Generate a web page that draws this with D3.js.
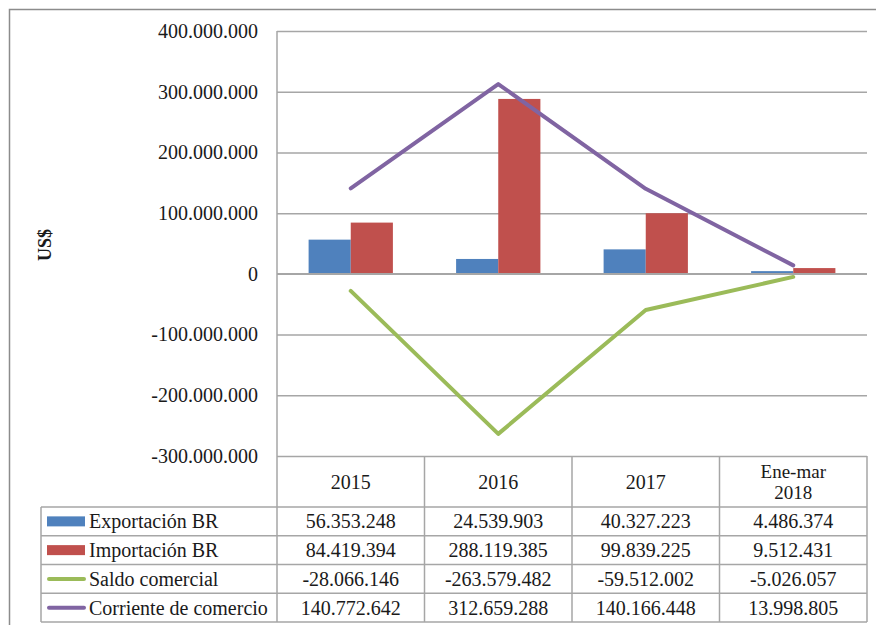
<!DOCTYPE html>
<html>
<head>
<meta charset="utf-8">
<script src="https://cdn.jsdelivr.net/npm/d3@7"></script>
<style>
  body { margin: 0; background: #fff; }
  svg { display: block; font-family: "Liberation Serif", "Times New Roman", serif; }
</style>
</head>
<body>
<svg id="chart"></svg>
<script>
// Chart data
const categories = ['2015', '2016', '2017', 'Ene-mar 2018'];
const headerLines = [['2015'], ['2016'], ['2017'], ['Ene-mar', '2018']];
const exportacion = [56353248, 24539903, 40327223, 4486374];
const importacion = [84419394, 288119385, 99839225, 9512431];
const saldo = [-28066146, -263579482, -59512002, -5026057];
const corriente = [140772642, 312659288, 140166448, 13998805];
const yTicks = [-300000000, -200000000, -100000000, 0, 100000000, 200000000, 300000000, 400000000];

const series = [
  { name: 'Exportación BR', values: exportacion, color: '#4f81bd', type: 'bar' },
  { name: 'Importación BR', values: importacion, color: '#c0504d', type: 'bar' },
  { name: 'Saldo comercial', values: saldo, color: '#9bbb59', type: 'line' },
  { name: 'Corriente de comercio', values: corriente, color: '#8064a2', type: 'line' }
];

const W = 876, H = 625;
const plot = { left: 277, right: 867, top: 31, bottom: 456 };
const table = { left: 41, headerBottom: 507, rowH: 28.75 };
const gridColor = '#a6a6a6';
const textColor = '#1a1a1a';

// number format with dots as thousands separator
const fmt = v => d3.format(',')(v).replace(/,/g, '.').replace('−', '-');

const svg = d3.select('#chart')
  .attr('width', W)
  .attr('height', H);

// outer frame
svg.append('rect')
  .attr('x', 9.5)
  .attr('y', 9.5)
  .attr('width', W + 10)
  .attr('height', H + 10)
  .attr('fill', 'none')
  .attr('stroke', '#8c8c8c')
  .attr('stroke-width', 1.5);

// scales
const xScale = d3.scaleBand()
  .domain(categories)
  .range([plot.left, plot.right])
  .padding(0);

const yScale = d3.scaleLinear()
  .domain([-300000000, 400000000])
  .range([plot.bottom, plot.top]);

const barW = xScale.bandwidth() / 3.5;

// gridlines + y axis labels
const yAxis = d3.axisLeft(yScale)
  .tickValues(yTicks)
  .tickFormat(fmt)
  .tickSize(-(plot.right - plot.left))
  .tickPadding(19);

const yG = svg.append('g')
  .attr('transform', `translate(${plot.left},0)`)
  .call(yAxis);
yG.select('.domain').remove();
yG.selectAll('.tick line')
  .attr('stroke', gridColor)
  .attr('stroke-width', 1.5);
yG.selectAll('.tick text')
  .attr('fill', textColor)
  .style('font-family', '"Liberation Serif", serif')
  .style('font-size', '20px');

// left axis line
svg.append('line')
  .attr('x1', plot.left)
  .attr('x2', plot.left)
  .attr('y1', plot.top)
  .attr('y2', plot.bottom)
  .attr('stroke', gridColor)
  .attr('stroke-width', 1.5);

// y axis title
svg.append('text')
  .attr('transform', 'translate(51,245) rotate(-90)')
  .attr('text-anchor', 'middle')
  .attr('fill', textColor)
  .style('font-size', '18px')
  .style('font-weight', 'bold')
  .text('US$');

// bars
series.filter(s => s.type === 'bar').forEach((s, i) => {
  svg.append('g')
    .selectAll('rect')
    .data(s.values)
    .enter()
    .append('rect')
    .attr('x', (d, j) => xScale(categories[j]) + xScale.bandwidth() / 2 - barW + i * barW)
    .attr('y', d => yScale(Math.max(0, d)))
    .attr('width', barW)
    .attr('height', d => Math.abs(yScale(d) - yScale(0)))
    .attr('fill', s.color);
});

// zero line on top of bars
svg.append('line')
  .attr('x1', plot.left)
  .attr('x2', plot.right)
  .attr('y1', yScale(0))
  .attr('y2', yScale(0))
  .attr('stroke', gridColor)
  .attr('stroke-width', 1.5);

// lines
const line = d3.line()
  .x((d, j) => xScale(categories[j]) + xScale.bandwidth() / 2)
  .y(d => yScale(d));

series.filter(s => s.type === 'line').forEach(s => {
  svg.append('path')
    .datum(s.values)
    .attr('d', line)
    .attr('fill', 'none')
    .attr('stroke', s.color)
    .attr('stroke-width', 4)
    .attr('stroke-linejoin', 'round')
    .attr('stroke-linecap', 'round');
});

// data table
const tbl = svg.append('g')
  .attr('stroke', gridColor)
  .attr('stroke-width', 1.5);

const rowY = i => table.headerBottom + i * table.rowH;
const tableBottom = rowY(series.length);

// vertical lines at category edges
categories.forEach(c => {
  tbl.append('line')
    .attr('x1', xScale(c)).attr('x2', xScale(c))
    .attr('y1', plot.bottom).attr('y2', tableBottom);
});
tbl.append('line')
  .attr('x1', plot.right).attr('x2', plot.right)
  .attr('y1', plot.bottom).attr('y2', tableBottom);
tbl.append('line')
  .attr('x1', table.left).attr('x2', table.left)
  .attr('y1', table.headerBottom).attr('y2', tableBottom);

// horizontal lines
d3.range(series.length + 1).forEach(i => {
  tbl.append('line')
    .attr('x1', table.left).attr('x2', plot.right)
    .attr('y1', rowY(i)).attr('y2', rowY(i));
});

// header labels
headerLines.forEach((lines, j) => {
  const cx = xScale(categories[j]) + xScale.bandwidth() / 2;
  const cy = (plot.bottom + table.headerBottom) / 2;
  const t = svg.append('text')
    .attr('x', cx)
    .attr('text-anchor', 'middle')
    .attr('fill', textColor)
    .style('font-size', lines.length > 1 ? '19px' : '20px');
  lines.forEach((l, k) => {
    t.append('tspan')
      .attr('x', cx)
      .attr('y', cy + (k - (lines.length - 1) / 2) * 21)
      .attr('dy', '0.35em')
      .text(l);
  });
});

// rows: legend key, name, values
series.forEach((s, i) => {
  const cy = rowY(i) + table.rowH / 2;
  if (s.type === 'bar') {
    svg.append('rect')
      .attr('x', 47)
      .attr('y', cy - 5)
      .attr('width', 38)
      .attr('height', 10)
      .attr('fill', s.color);
  } else {
    svg.append('line')
      .attr('x1', 49).attr('x2', 84)
      .attr('y1', cy).attr('y2', cy)
      .attr('stroke', s.color)
      .attr('stroke-width', 4)
      .attr('stroke-linecap', 'round');
  }
  svg.append('text')
    .attr('x', 89)
    .attr('y', cy)
    .attr('dy', '0.35em')
    .attr('fill', textColor)
    .style('font-size', '20px')
    .text(s.name);

  svg.append('g')
    .selectAll('text')
    .data(s.values)
    .enter()
    .append('text')
    .attr('x', (d, j) => xScale(categories[j]) + xScale.bandwidth() / 2)
    .attr('y', cy)
    .attr('dy', '0.35em')
    .attr('text-anchor', 'middle')
    .attr('fill', textColor)
    .style('font-size', '20px')
    .text(d => fmt(d));
});
</script>
</body>
</html>
